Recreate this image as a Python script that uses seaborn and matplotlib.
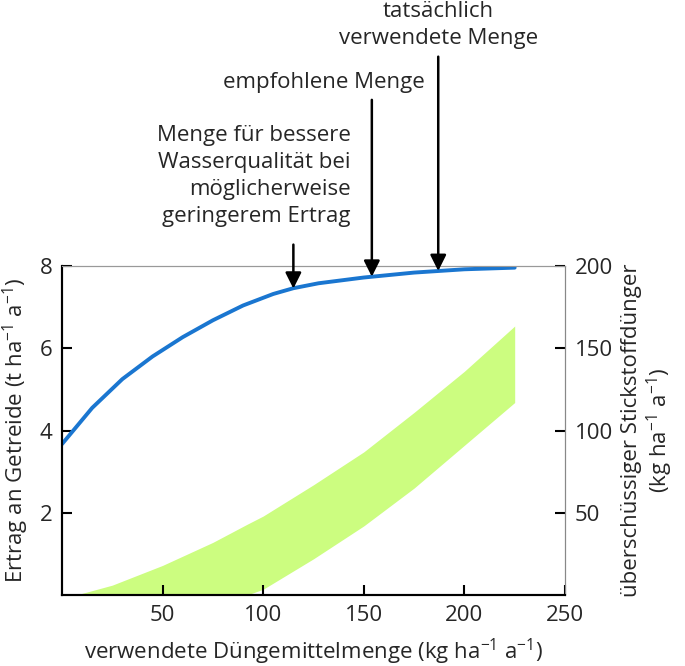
import numpy as np
import pandas as pd
import seaborn as sns
import matplotlib.pyplot as plt

sns.set_style("ticks")
plt.rcParams['font.family'] = ['Open Sans', 'DejaVu Sans']
plt.rcParams['mathtext.fontset'] = 'custom'
plt.rcParams['mathtext.rm'] = 'Open Sans'
plt.rcParams['mathtext.default'] = 'rm'

# Ertrag (t/ha/a) ueber Duengemittelmenge
yield_x = [0, 15, 30, 45, 60, 75, 90, 105, 115, 127.5, 150, 175, 200, 225]
yield_y = [3.67, 4.55, 5.25, 5.80, 6.27, 6.68, 7.04, 7.32, 7.46, 7.58, 7.72, 7.84, 7.92, 7.96]

# ueberschuessiger Stickstoff (kg/ha/a), Band
band_x = [0, 7, 25, 50, 75, 92, 100, 125, 150, 175, 200, 225]
band_low = [0, 0, 0, 0, 0, 0, 3.5, 22, 42, 65, 91, 117]
band_high = [0, 0, 6, 18, 32, 43, 48, 67, 87, 111, 136, 163.5]

arrow_x = [115, 154, 187]
arrow_tip = [7.45, 7.74, 7.88]
arrow_start = [8.52, 12.04, 13.09]
labels = ["Menge für bessere\nWasserqualität bei\nmöglicherweise\ngeringerem Ertrag",
          "empfohlene Menge",
          "tatsächlich\nverwendete Menge"]

df_yield = pd.DataFrame({"x": yield_x, "y": yield_y})

fig = plt.figure(figsize=(6.85, 6.66), dpi=100)
ax = fig.add_axes([0.0905, 0.1066, 0.7343, 0.494])
ax2 = ax.twinx()

ax2.fill_between(band_x, band_low, band_high, color='#ccfd80', lw=0)
sns.lineplot(data=df_yield, x="x", y="y", ax=ax, color='#1a76d0', lw=2.8)
ax.set_zorder(ax2.get_zorder() + 1)
ax.patch.set_visible(False)

ax.set_xlim(0, 250)
ax.set_ylim(0, 8)
ax2.set_ylim(0, 200)
ax.set_xticks([50, 100, 150, 200, 250])
ax.set_yticks([2, 4, 6, 8])
ax2.set_yticks([50, 100, 150, 200])

fs = 16
ax.tick_params(axis='both', direction='in', length=7, width=1.5, labelsize=fs,
               color='black', pad=7, bottom=True, left=True)
ax2.tick_params(axis='y', direction='in', length=7, width=1.5, labelsize=fs,
                color='black', pad=7, right=True)

for a in (ax, ax2):
    a.spines['left'].set_color('black')
    a.spines['bottom'].set_color('black')
    a.spines['left'].set_linewidth(1.5)
    a.spines['bottom'].set_linewidth(1.5)
    a.spines['top'].set_visible(True)
    a.spines['right'].set_visible(True)
    a.spines['top'].set_color('#999999')
    a.spines['right'].set_color('#888888')

ax.set_xlabel("verwendete Düngemittelmenge (kg ha$^{−1}$ a$^{−1}$)", fontsize=fs, labelpad=8)
ax.set_ylabel("Ertrag an Getreide (t ha$^{−1}$ a$^{−1}$)", fontsize=fs, labelpad=6)
ax2.set_ylabel("überschüssiger Stickstoffdünger\n(kg ha$^{−1}$ a$^{−1}$)", fontsize=fs,
               labelpad=6, linespacing=1.1)

for xa, tip, start in zip(arrow_x, arrow_tip, arrow_start):
    ax.annotate("", xy=(xa, tip), xytext=(xa, start), annotation_clip=False,
                arrowprops=dict(arrowstyle='-|>', color='black', lw=1.8,
                                mutation_scale=24, shrinkA=0, shrinkB=0))

ax.text(143.5, 10.19, labels[0], ha='right', va='center', fontsize=fs,
        linespacing=1.37, clip_on=False)
ax.text(180.5, 12.46, labels[1], ha='right', va='center', fontsize=fs, clip_on=False)
ax.text(187, 13.87, labels[2], ha='center', va='center', fontsize=fs,
        linespacing=1.37, clip_on=False)

fig.savefig("out.png", dpi=100)
